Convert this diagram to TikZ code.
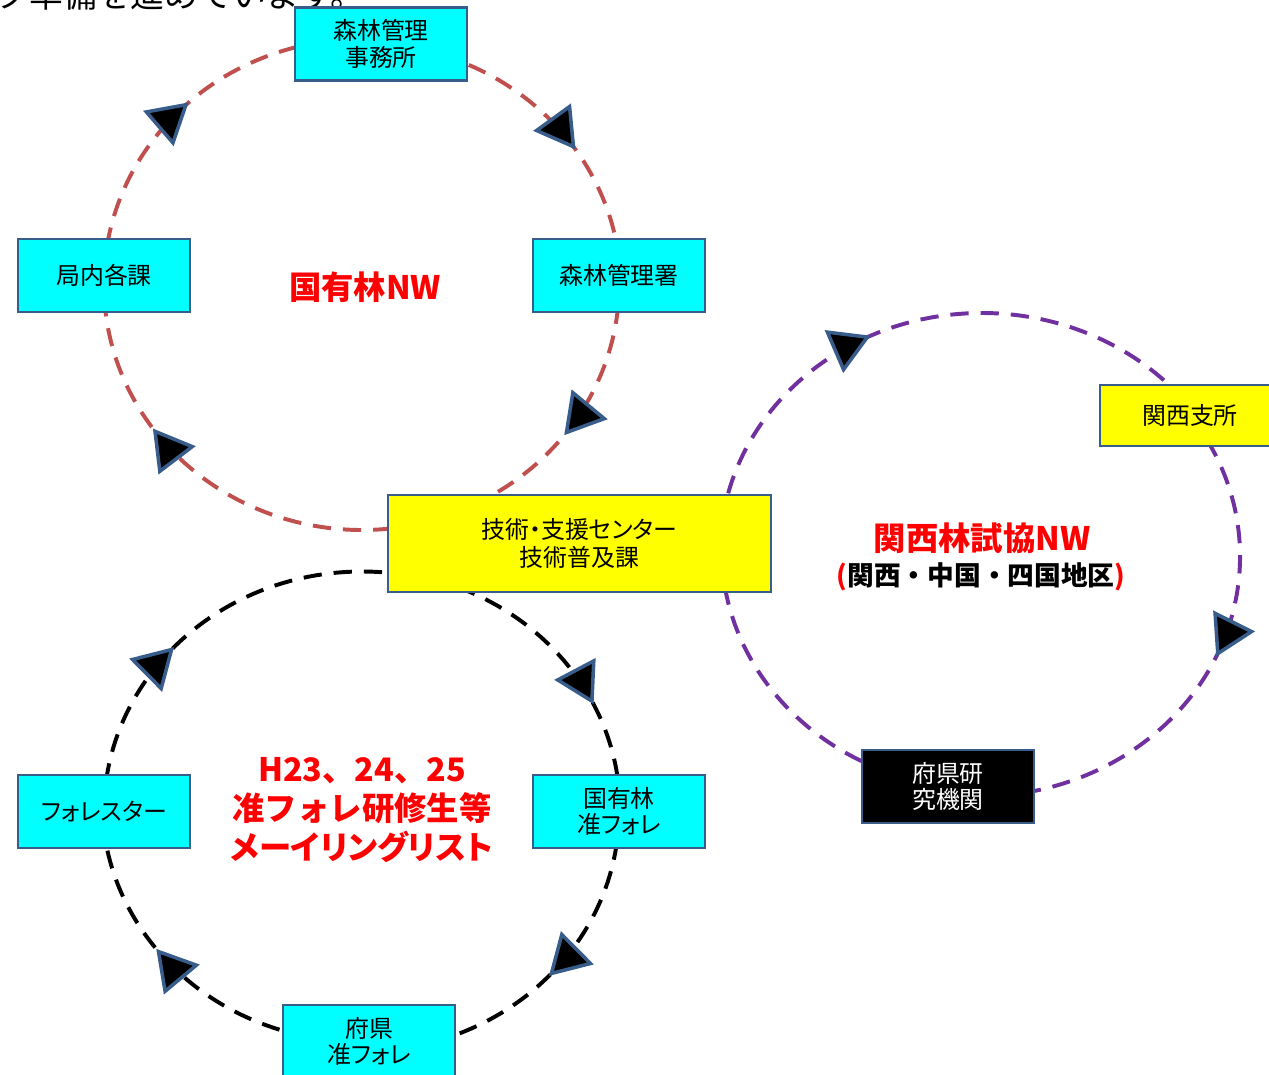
\documentclass[tikz,border=0pt]{standalone}
\usepackage{fontspec}
\setmainfont{Noto Sans CJK JP}[RawFeature=+palt]
\newfontfamily\monojp{Noto Sans CJK JP}
\usetikzlibrary{calc, arrows.meta, decorations.markings, backgrounds}

\definecolor{boxline}{HTML}{385D8A}
\definecolor{boxcyan}{HTML}{00FFFF}
\definecolor{boxyellow}{HTML}{FFFF00}
\definecolor{ringred}{HTML}{C0504D}
\definecolor{ringpurple}{HTML}{7030A0}

\tikzset{
  bigtip/.tip={Triangle[length=1cm, width=1.15cm, fill=black, color=boxline, line width=2.5pt]},
  netbox/.style={draw=boxline, line width=2pt, minimum width=4.3cm, minimum height=1.825cm,
    align=center, font=\fontsize{17}{19}\selectfont},
  cyanbox/.style={netbox, fill=boxcyan},
  ring/.style={line width=2.8pt, dash pattern=on 13pt off 8.5pt},
  flow/.style={postaction={decorate},
    decoration={markings, mark=at position #1 with {\arrow{bigtip}}}},
  nwtitle/.style={text=red, font=\bfseries\fontsize{23}{28}\selectfont, align=center}
}

\begin{document}
\begin{tikzpicture}[x=0.025cm, y=-0.025cm]
	\useasboundingbox (0,0) rectangle (1269,1074);
	\clip (0,0) rectangle (1269,1074);
	
	\node[anchor=base west, font=\monojp\fontsize{24}{28}\selectfont] (lead) at (-9,7) {ク準備を進めています。};
	
	% boxes
	\node[cyanbox] (jimusho) at (381,44) {森林管理\\事務所};
	\node[cyanbox] (kyoku) at (104,275.5) {局内各課};
	\node[cyanbox] (shoo) at (619,275.5) {森林管理署};
	\node[netbox, fill=boxyellow, minimum width=9.575cm, minimum height=2.425cm,
		font=\fontsize{17}{20}\selectfont] (gijutsu) at (579.5,543.5) {技術・支援センター\\技術普及課};
	\node[netbox, fill=boxyellow, minimum width=4.5cm, minimum height=1.525cm] (kansai) at (1190,415.5) {関西支所};
	\node[netbox, fill=black, text=white] (fukenken) at (948,786.5) {府県研\\究機関};
	\node[cyanbox] (forester) at (104,811.5) {フォレスター};
	\node[cyanbox] (kokujun) at (619,811.5) {国有林\\准フォレ};
	\node[cyanbox] (fukenjun) at (369,1041.5) {府県\\准フォレ};
	
	% titles
	\node[nwtitle] (nwA) at (365,287) {国有林NW};
	\node[nwtitle] (nwB) at (982,538) {関西林試協NW};
	\node[font=\monojp\bfseries\fontsize{19}{22}\selectfont] (nwBsub) at (981,577)
		{\textcolor{red}{(}関西・中国・四国地区\textcolor{red}{)}};
	\node[nwtitle] (nwC) at (362,810) {{\monojp H23、24、25}\\{\monojp 准フォレ研修生等}\\メーイリングリスト};
	
	% ring points under the centre box
	\coordinate (gA) at ($(362,285)+(70:258 and 245)$);
	\coordinate (gB) at ($(982,553)+(180:262 and 240)$);
	\coordinate (gC) at ($(362,810)+(285:258 and 240)$);
	
	\begin{scope}[on background layer]
		\draw[ring, ringred, flow=0.49] (kyoku.center) arc[start angle=182, end angle=274, x radius=258, y radius=245];
		\draw[ring, ringred, flow=0.62] (jimusho.center) arc[start angle=274, end angle=358, x radius=258, y radius=245];
		\draw[ring, ringred, flow=0.55] (shoo.center) arc[start angle=358, end angle=430, x radius=258, y radius=245];
		\draw[ring, ringred, flow=0.67] (gA) arc[start angle=70, end angle=182, x radius=258, y radius=245];
		
		\draw[ring, ringpurple, flow=0.44] (gB) arc[start angle=180, end angle=324, x radius=262, y radius=240];
		\draw[ring, ringpurple, flow=0.44] (kansai.center) arc[start angle=324, end angle=457.8, x radius=262, y radius=240];
		\draw[ring, ringpurple] (fukenken.center) arc[start angle=97.8, end angle=180, x radius=262, y radius=240];
		
		\draw[ring, black, flow=0.40] (forester.center) arc[start angle=180, end angle=285, x radius=258, y radius=240];
		\draw[ring, black, flow=0.66] (gC) arc[start angle=285, end angle=360, x radius=258, y radius=240];
		\draw[ring, black, flow=0.48] (kokujun.center) arc[start angle=0, end angle=88, x radius=258, y radius=240];
		\draw[ring, black, flow=0.60] (fukenjun.center) arc[start angle=88, end angle=180, x radius=258, y radius=240];
	\end{scope}
\end{tikzpicture}
\end{document}
